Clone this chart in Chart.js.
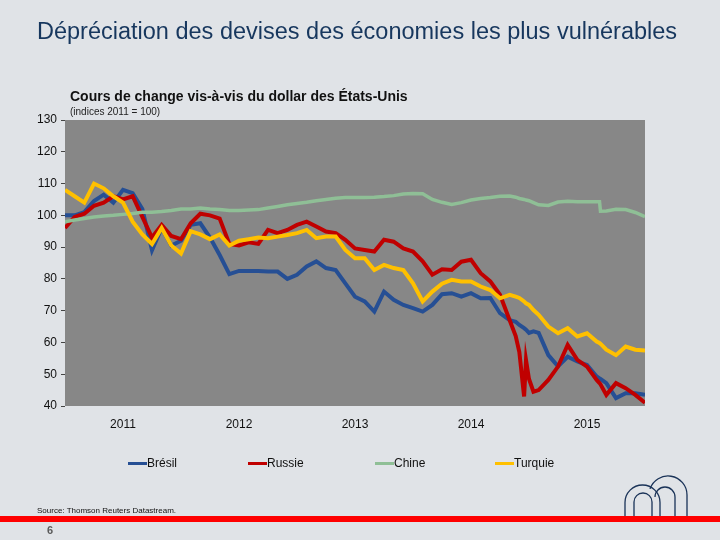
<!DOCTYPE html>
<html lang="fr">
<head>
<meta charset="utf-8">
<title>Dépréciation des devises des économies les plus vulnérables</title>
<script src="https://cdn.jsdelivr.net/npm/chart.js@4.4.1/dist/chart.umd.min.js"></script>
<style>
  html, body { margin: 0; padding: 0; }
  body {
    width: 720px; height: 540px; position: relative; overflow: hidden;
    background: #e0e3e7;
    font-family: "Liberation Sans", Arial, sans-serif;
  }
  #wrap { position: absolute; left: 0; top: 0; width: 720px; height: 540px; }
  .txt { position: absolute; white-space: nowrap; line-height: 1; }
  #title { left: 37px; top: 20px; font-size: 23.5px; color: #17375e; }
  #subtitle { left: 70px; top: 89px; font-size: 14px; font-weight: bold; color: #111; }
  #note { left: 70px; top: 107px; font-size: 10px; color: #222; }
  #source { left: 37px; top: 507px; font-size: 8px; color: #111; }
  #page { left: 47px; top: 525px; font-size: 11px; font-weight: bold; color: #5a5a5a; }
  #redbar { position: absolute; left: 0; top: 516px; width: 720px; height: 6px; background: #ff0000; }
  #logo { position: absolute; left: 600px; top: 460px; }
  .leg { position: absolute; top: 456px; height: 14px; font-size: 12px; color: #111; }
  .leg span.line { position: absolute; left: 0; top: 6px; width: 19px; height: 3px; }
  .leg span.lab { position: absolute; left: 19px; top: 0; white-space: nowrap; line-height: 14px; }
</style>
</head>
<body>
<div id="wrap"><canvas id="fx-chart"></canvas></div>
<div class="txt" id="title">Dépréciation des devises des économies les plus vulnérables</div>
<div class="txt" id="subtitle">Cours de change vis-à-vis du dollar des États-Unis</div>
<div class="txt" id="note">(indices 2011 = 100)</div>
<div id="legend"></div>
<div class="txt" id="source">Source: Thomson Reuters Datastream.</div>
<svg id="logo" width="120" height="60" viewBox="0 0 120 60">
  <g fill="none" stroke="#1a3358" stroke-width="1.3">
    <path d="M25 57 V42.5 A17.5 17.5 0 0 1 60 42.5 V57"/>
    <path d="M34 57 V42 A9 9 0 0 1 52 42 V57"/>
    <path d="M50 28.9 A19 19 0 0 1 87 35 V57"/>
    <path d="M55 37 A10 10 0 0 1 75 37 V57"/>
  </g>
</svg>
<div id="redbar"></div>
<div class="txt" id="page">6</div>
<script>
// dates of the points (monthly, plus a few extra around Dec 2014 and Aug 2015)
const dates = [
  "2011-01-01", "2011-02-01", "2011-03-01", "2011-04-01", "2011-05-01", "2011-06-01",
  "2011-07-01", "2011-08-01", "2011-09-01", "2011-10-01", "2011-11-01", "2011-12-01",
  "2012-01-01", "2012-02-01", "2012-03-01", "2012-04-01", "2012-05-01", "2012-06-01",
  "2012-07-01", "2012-08-01", "2012-09-01", "2012-10-01", "2012-11-01", "2012-12-01",
  "2013-01-01", "2013-02-01", "2013-03-01", "2013-04-01", "2013-05-01", "2013-06-01",
  "2013-07-01", "2013-08-01", "2013-09-01", "2013-10-01", "2013-11-01", "2013-12-01",
  "2014-01-01", "2014-02-01", "2014-03-01", "2014-04-01", "2014-05-01", "2014-06-01",
  "2014-07-01", "2014-08-01", "2014-09-01", "2014-10-01",
  "2014-11-01", "2014-11-20", "2014-12-01", "2014-12-16", "2014-12-22",
  "2015-01-01", "2015-01-15", "2015-02-01", "2015-03-01", "2015-04-01", "2015-05-01",
  "2015-06-01", "2015-07-01", "2015-08-01", "2015-08-10", "2015-08-13",
  "2015-09-01", "2015-10-01", "2015-11-01", "2015-12-01", "2016-01-01"
];

const bresil = [
  100, 100, 101, 104.5, 106.5, 104, 108, 107, 102, 89, 96, 90.5,
  92, 97, 97.5, 93, 87.5, 81.5, 82.5, 82.5, 82.5, 82.3, 82.3, 80,
  81.3, 83.9, 85.5, 83.4, 82.8, 78.6, 74.4, 72.9, 69.7, 76, 73.4, 71.8,
  70.8, 69.7, 71.8, 75.2, 75.5, 74.4, 75.5, 73.9, 74, 69.2,
  67, 66.5, 65.5, 64.5, 64,
  63, 63.5, 63, 56, 52.5, 55.5,
  54, 52.9, 49.3, 48.7, 48.5,
  47.2, 42.5, 44, 44, 43.5
];

const russie = [
  96, 99.5, 100.5, 103, 104, 106, 105, 106, 99.5, 93, 97, 93.5,
  92.5, 97.5, 100.5, 100, 99, 91, 90.5, 91.5, 91, 95.4, 94.4, 95.4,
  97, 98, 96.5, 94.9, 94.4, 92.3, 89.6, 89.1, 88.6, 92.3, 91.7, 89.6,
  88.6, 85.5, 81.3, 83, 82.8, 85.4, 86, 81.8, 79.2, 75,
  67, 62, 57, 43, 54.5,
  48.5, 44.5, 45, 48.2, 52.4, 59.2,
  54.5, 52.4, 48.2, 47.2, 46.8,
  43.5, 47.2, 45.6, 43.5, 41
];

const chine = [
  98, 98.5, 99, 99.5, 99.8, 100, 100.3, 100.6, 101, 101, 101.2, 101.5,
  102, 102, 102.3, 102, 101.8, 101.5, 101.5, 101.7, 101.8, 102.3, 102.8, 103.3,
  103.7, 104.1, 104.6, 105, 105.4, 105.6, 105.6, 105.6, 105.7, 105.9, 106.2, 106.7,
  106.9, 106.8, 105, 104.1, 103.4, 104, 104.8, 105.3, 105.6, 106,
  106.1, 105.7, 105.3, 105, 104.8,
  104.6, 104, 103.3, 103.1, 104.2, 104.4,
  104.3, 104.3, 104.3, 104.3, 101.3,
  101.4, 101.9, 101.8, 100.9, 99.6
];

const turquie = [
  108, 106, 104, 110, 108.5, 106, 104, 98, 94, 91, 96, 90.5,
  88, 95, 94, 92.5, 94, 90.5, 92, 92.5, 93, 92.8, 93.3, 93.8,
  94.4, 95.4, 92.8, 93.3, 93.3, 89.1, 86.5, 86.5, 82.8, 84.4, 83.4, 82.8,
  78.6, 72.9, 76, 78.5, 79.7, 79.2, 79.2, 77.6, 76.5, 73.9,
  75, 74.4, 74, 72.9, 72.3,
  71.8, 70.2, 68.7, 65, 62.9, 64.5,
  61.9, 62.9, 60.3, 59.8, 59.6,
  57.7, 56, 58.7, 57.7, 57.5
];

const seriesNames = ["Brésil", "Russie", "Chine", "Turquie"];
const seriesColors = ["#264f94", "#c00000", "#8fbf96", "#ffc000"];
const xTickYears = [2011, 2012, 2013, 2014, 2015];
const xTickLabels = ["2011", "2012", "2013", "2014", "2015"];

// "2014-12-16" -> 2014.954
const toYear = (s) => {
  const [y, m, d] = s.split("-").map(Number);
  return y + (m - 1) / 12 + (d - 1) / 365;
};
const xs = dates.map(toYear);
const points = (vals) => vals.map((v, i) => ({ x: xs[i], y: v }));

const allSeries = [bresil, russie, chine, turquie];

// fond gris de la zone de tracé
const plotBackground = {
  id: "plotBackground",
  beforeDraw(chart) {
    const { ctx, chartArea: a } = chart;
    ctx.save();
    ctx.fillStyle = "#878787";
    ctx.fillRect(a.left, a.top, a.right - a.left, a.bottom - a.top);
    ctx.restore();
  },
};

const ctx = document.getElementById("fx-chart").getContext("2d");
const chart = new Chart(ctx, {
  type: "line",
  data: {
    datasets: allSeries.map((vals, i) => ({
      label: seriesNames[i],
      data: points(vals),
      borderColor: seriesColors[i],
      backgroundColor: seriesColors[i],
      borderWidth: i === 2 ? 3.5 : 4,
      pointRadius: 0,
      tension: 0,
      order: 4 - i, // la dernière série passe au-dessus
    })),
  },
  options: {
    responsive: true,
    maintainAspectRatio: false,
    animation: false,
    layout: { padding: { left: 0, right: 75, top: 120, bottom: 104 } },
    plugins: {
      legend: { display: false },
      tooltip: { enabled: false },
    },
    scales: {
      x: {
        type: "linear",
        min: 2011,
        max: 2016,
        afterBuildTicks: (s) => {
          s.ticks = xTickYears.map((y) => ({ value: y + 0.5 }));
        },
        afterFit: (s) => { s.height = 30; },
        grid: { display: false, drawTicks: false },
        border: { display: false },
        ticks: {
          callback: (v, i) => xTickLabels[i],
          padding: 11,
          maxRotation: 0,
          autoSkip: false,
          color: "#111",
          font: { family: "'Liberation Sans', Arial, sans-serif", size: 12 },
        },
      },
      y: {
        min: 40,
        max: 130,
        afterFit: (s) => { s.width = 65; },
        grid: { drawOnChartArea: false, drawTicks: true, tickLength: 4, tickColor: "#444" },
        border: { display: false },
        ticks: {
          stepSize: 10,
          padding: 4,
          color: "#111",
          font: { family: "'Liberation Sans', Arial, sans-serif", size: 12 },
        },
      },
    },
  },
  plugins: [plotBackground],
});

// légende
const legendLeft = [128, 248, 375, 495];
const legend = document.getElementById("legend");
seriesNames.forEach((name, i) => {
  const item = document.createElement("div");
  item.className = "leg";
  item.style.left = legendLeft[i] + "px";
  item.innerHTML = '<span class="line" style="background:' + seriesColors[i] + '"></span>' +
    '<span class="lab">' + name + "</span>";
  legend.appendChild(item);
});
</script>
</body>
</html>
